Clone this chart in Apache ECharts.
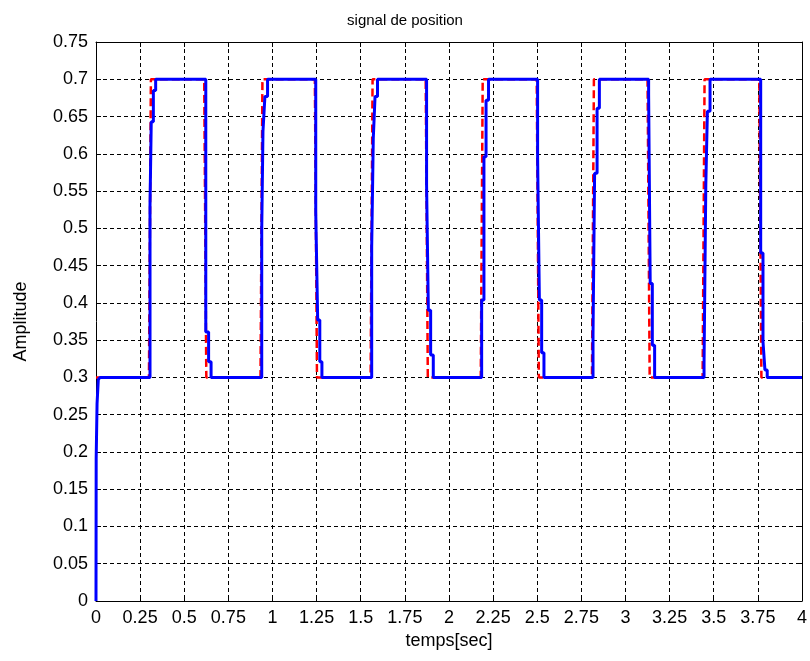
<!DOCTYPE html>
<html>
<head>
<meta charset="utf-8">
<script src="https://cdn.jsdelivr.net/npm/echarts@6/dist/echarts.min.js"></script>
<style>
  html, body { margin: 0; padding: 0; background: #fff; }
  #chart { width: 810px; height: 661px; }
</style>
</head>
<body>
<div id="chart"></div>
<script>
// Reference square wave: [time (s), amplitude] breakpoints
const referenceSignal = [
  [0, 0.3],
  [0.300, 0.3], [0.311, 0.7], [0.613, 0.7], [0.625, 0.3],
  [0.932, 0.3], [0.943, 0.7], [1.240, 0.7], [1.252, 0.3],
  [1.556, 0.3], [1.567, 0.7], [1.868, 0.7], [1.880, 0.3],
  [2.180, 0.3], [2.191, 0.7], [2.497, 0.7], [2.509, 0.3],
  [2.810, 0.3], [2.821, 0.7], [3.125, 0.7], [3.137, 0.3],
  [3.437, 0.3], [3.448, 0.7], [3.758, 0.7], [3.770, 0.3],
  [4, 0.3]
];

// Measured position (sampled, held between samples): [time (s), amplitude]
const positionSignal = [
  [0, 0], [0.001, 0.191], [0.006, 0.265], [0.013, 0.297], [0.023, 0.3],
  [0.306, 0.531], [0.313, 0.643], [0.325, 0.685], [0.338, 0.7],
  [0.622, 0.361], [0.638, 0.321], [0.652, 0.3],
  [0.939, 0.498], [0.946, 0.63], [0.957, 0.677], [0.972, 0.7],
  [1.245, 0.522], [1.256, 0.377], [1.268, 0.321], [1.280, 0.3],
  [1.562, 0.475], [1.571, 0.621], [1.581, 0.677], [1.595, 0.7],
  [1.873, 0.558], [1.883, 0.39], [1.896, 0.33], [1.911, 0.3],
  [2.185, 0.404], [2.198, 0.596], [2.210, 0.672], [2.224, 0.7],
  [2.502, 0.596], [2.512, 0.404], [2.525, 0.333], [2.538, 0.3],
  [2.816, 0.357], [2.825, 0.574], [2.839, 0.661], [2.852, 0.7],
  [3.131, 0.68], [3.140, 0.426], [3.152, 0.343], [3.165, 0.3],
  [3.445, 0.319], [3.455, 0.558], [3.464, 0.657], [3.479, 0.7],
  [3.766, 0.467], [3.779, 0.348], [3.790, 0.31], [3.803, 0.3],
  [4, 0.3]
];

const xRange = { min: 0, max: 4, interval: 0.25 };
const yRange = { min: 0, max: 0.75, interval: 0.05 };

const FONT = 'Liberation Sans, Arial, sans-serif';
const tickFont = { fontFamily: FONT, fontSize: 18, color: '#000' };

const gridDash = { show: true, lineStyle: { color: '#000', width: 1, type: [4, 3] } };
const frameLine = { show: true, onZero: false, lineStyle: { color: '#000', width: 1 } };
const innerTick = { show: true, inside: true, length: 5, lineStyle: { color: '#000', width: 1 } };

const chart = echarts.init(document.getElementById('chart'), null, { renderer: 'canvas' });

chart.setOption({
  backgroundColor: '#fff',
  animation: false,
  title: {
    text: 'signal de position',
    left: 'center',
    top: 8,
    textStyle: { fontFamily: FONT, fontSize: 15, fontWeight: 'normal', color: '#000' }
  },
  grid: { left: 96, right: 8, top: 42, bottom: 60, containLabel: false },
  xAxis: [
    {
      type: 'value', ...xRange,
      name: 'temps[sec]', nameLocation: 'middle', nameGap: 29,
      nameTextStyle: { fontFamily: FONT, fontSize: 18, color: '#000' },
      axisLine: frameLine, axisTick: innerTick,
      axisLabel: { ...tickFont, margin: 8 },
      splitLine: gridDash
    },
    {
      type: 'value', ...xRange, position: 'top',
      axisLine: frameLine, axisTick: innerTick,
      axisLabel: { show: false }, splitLine: { show: false }
    }
  ],
  yAxis: [
    {
      type: 'value', ...yRange,
      name: 'Amplitude', nameLocation: 'middle', nameGap: 66, nameRotate: 90,
      nameTextStyle: { fontFamily: FONT, fontSize: 18, color: '#000' },
      axisLine: frameLine, axisTick: innerTick,
      axisLabel: { ...tickFont, margin: 8 },
      splitLine: gridDash
    },
    {
      type: 'value', ...yRange, position: 'right',
      axisLine: frameLine, axisTick: innerTick,
      axisLabel: { show: false }, splitLine: { show: false }
    }
  ],
  series: [
    {
      name: 'reference',
      type: 'line',
      data: referenceSignal,
      showSymbol: false,
      lineStyle: { color: '#ff0000', width: 2.5, type: [8, 4] },
      z: 2
    },
    {
      name: 'position',
      type: 'line',
      step: 'end',
      data: positionSignal,
      showSymbol: false,
      lineStyle: { color: '#0000ff', width: 3 },
      z: 3
    }
  ]
});
</script>
</body>
</html>
